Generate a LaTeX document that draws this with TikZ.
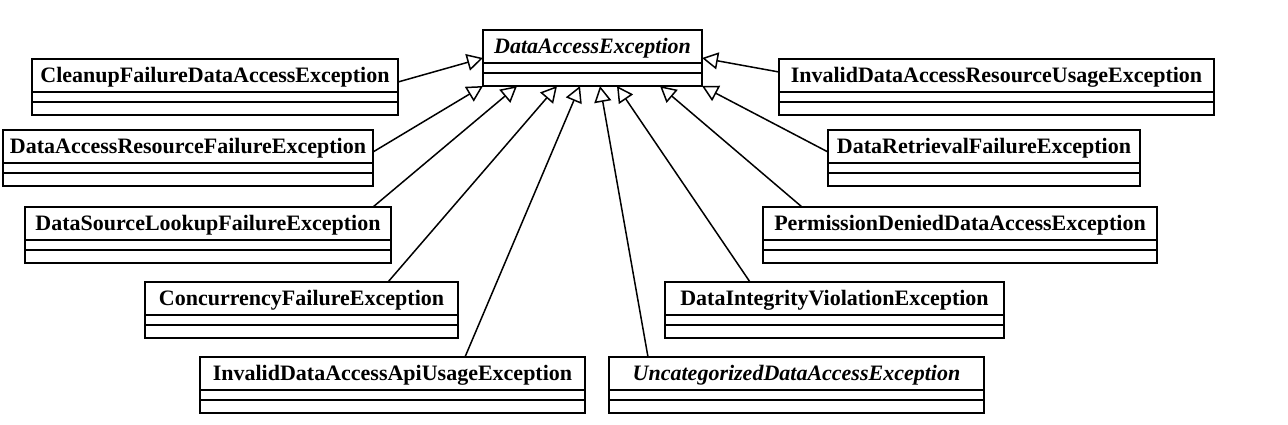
\documentclass[tikz,border=0pt]{standalone}
\usepackage{fontspec}
\setmainfont{Liberation Serif}
\usetikzlibrary{arrows.meta,calc}
\tikzset{
  classbox/.style={draw, line width=1.8pt, anchor=north west, inner sep=0pt, outer sep=0pt, minimum height=56pt},
  classname/.style={anchor=base, inner sep=0pt, font=\fontsize{22}{24}\selectfont\bfseries},
  absname/.style={classname, font=\fontsize{22}{24}\selectfont\bfseries\itshape},
  complines/.style={line width=1.6pt},
  inherit/.style={line width=1.5pt, -{Triangle[open, length=16pt, width=17pt, fill=white]}},
}
\newcommand{\umlclass}[6][classname]{%
  \node[classbox, minimum width={#5pt-#3pt}] (#2) at (#3,#4) {};
  \node[#1] (#2-n) at ($(#2.north)+(0,23)$) {#6};
  \draw[complines] ($(#2.north west)+(0,33)$) -- ($(#2.north east)+(0,33)$)
    ($(#2.north west)+(0,43)$) -- ($(#2.north east)+(0,43)$);
}
\begin{document}
\begin{tikzpicture}[x=1pt,y=-1pt]
\useasboundingbox (0,0) rectangle (1288,424);
\umlclass[absname]{top}{483}{30}{702}{DataAccessException}
\umlclass{cleanup}{32}{59}{398}{CleanupFailureDataAccessException}
\umlclass{idaru}{779}{59}{1214}{InvalidDataAccessResourceUsageException}
\umlclass{darf}{3}{130}{373}{DataAccessResourceFailureException}
\umlclass{drf}{828}{130}{1140}{DataRetrievalFailureException}
\umlclass{dslf}{25}{207}{391}{DataSourceLookupFailureException}
\umlclass{pd}{763}{207}{1157}{PermissionDeniedDataAccessException}
\umlclass{cf}{145}{282}{458}{ConcurrencyFailureException}
\umlclass{div}{665}{282}{1004}{DataIntegrityViolationException}
\umlclass{idaau}{200}{357}{585}{InvalidDataAccessApiUsageException}
\umlclass[absname]{uda}{609}{357}{984}{UncategorizedDataAccessException}

\draw[inherit] ($(cleanup.north east)+(0,23)$) -- ($(top.north west)+(0,28)$);
\draw[inherit] ($(idaru.north west)+(0,13)$) -- ($(top.north east)+(0,28)$);
\draw[inherit] ($(darf.north east)+(0,22)$) -- (top.south west);
\draw[inherit] ($(dslf.north east)+(-18,0)$) -- ($(top.south west)+(34,0)$);
\draw[inherit] ($(cf.north east)+(-70,0)$) -- ($(top.south west)+(74,0)$);
\draw[inherit] ($(idaau.north east)+(-120,0)$) -- ($(top.south west)+(97,0)$);
\draw[inherit] ($(uda.north west)+(39,0)$) -- ($(top.south west)+(117,0)$);
\draw[inherit] ($(div.north west)+(85,0)$) -- ($(top.south west)+(134,0)$);
\draw[inherit] ($(pd.north west)+(39,0)$) -- ($(top.south west)+(177,0)$);
\draw[inherit] ($(drf.north west)+(0,22)$) -- (top.south east);
\end{tikzpicture}
\end{document}
